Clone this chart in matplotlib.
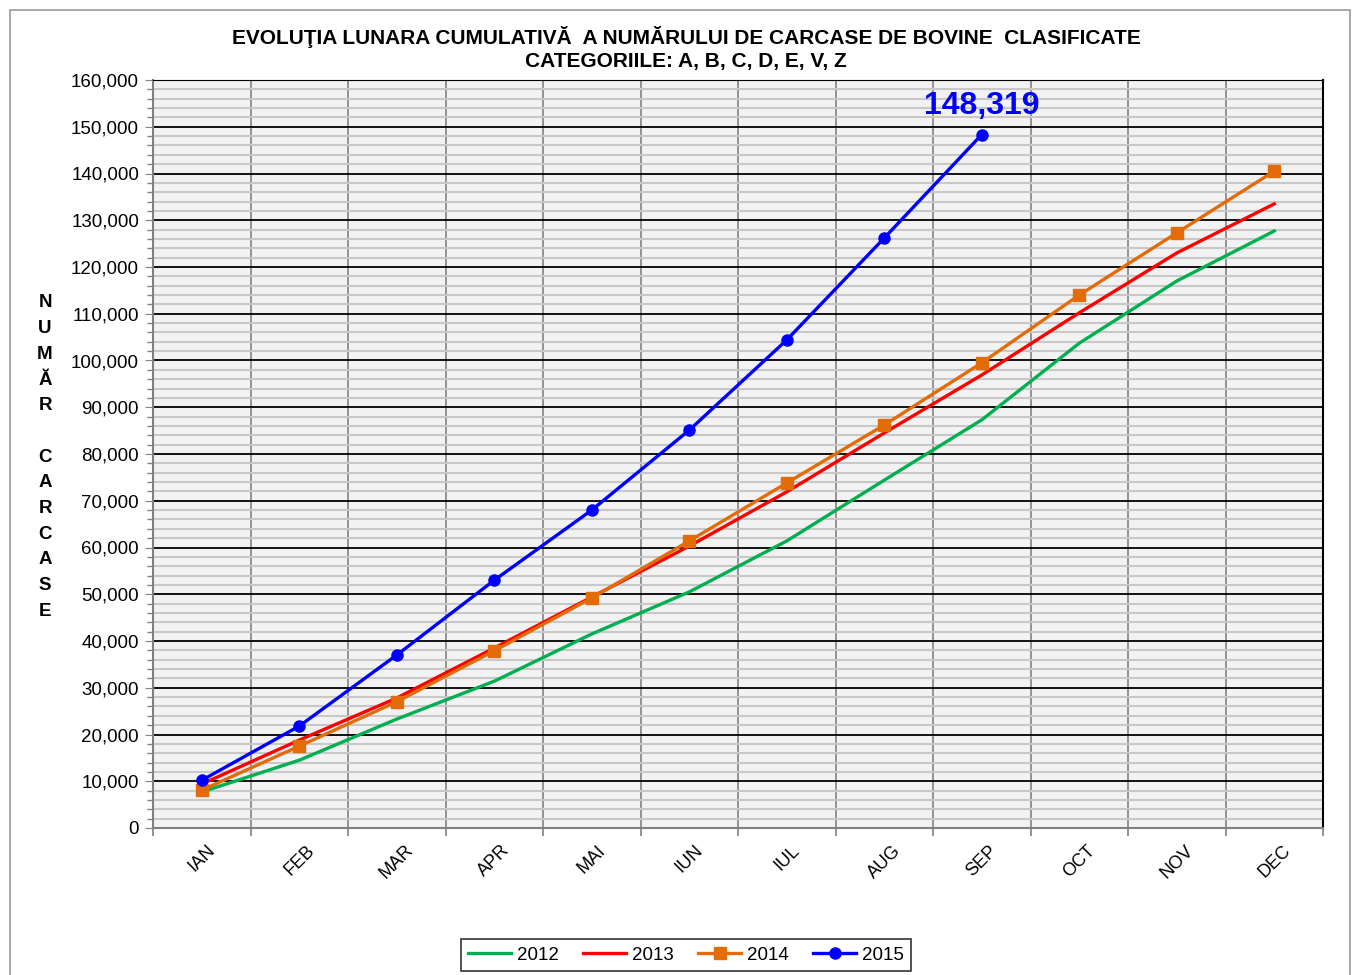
import matplotlib
matplotlib.use("Agg")
import matplotlib.pyplot as plt
from matplotlib.ticker import MultipleLocator, FuncFormatter, FixedLocator
from matplotlib.patches import Rectangle
from matplotlib.transforms import ScaledTranslation

months = ["IAN", "FEB", "MAR", "APR", "MAI", "IUN", "IUL", "AUG", "SEP", "OCT", "NOV", "DEC"]
y2012 = [7700, 14500, 23300, 31400, 41500, 50500, 61400, 74400, 87300, 103700, 117000, 127700]
y2013 = [9400, 18800, 27800, 38500, 49400, 60300, 71900, 84500, 96900, 110200, 123000, 133500]
y2014 = [8100, 17500, 27000, 37900, 49200, 61400, 73800, 86200, 99500, 114000, 127300, 140500]
y2015 = [10200, 21800, 37000, 53000, 68000, 85100, 104400, 126200, 148319]

plt.rcParams['font.family'] = ['Liberation Sans', 'DejaVu Sans']

fig = plt.figure(figsize=(13.54, 9.75), dpi=100)
fig.patches.append(Rectangle((10/1354, -0.01), 1340/1354, (975-10)/975 + 0.01,
                             transform=fig.transFigure, fill=False, edgecolor='#9a9a9a', lw=1.2))
ax = fig.add_axes([153/1354, 1-828/975, (1323-153)/1354, (828-80)/975])
ax.set_facecolor('#F2F2F2')

x = list(range(len(months)))
ax.plot(x, y2012, color='#00B050', lw=2.4, label='2012', zorder=3)
ax.plot(x, y2013, color='#FF0000', lw=2.4, label='2013', zorder=3)
ax.plot(x, y2014, color='#E36C09', lw=2.4, marker='s', ms=8, label='2014', zorder=4)
x15 = list(range(len(y2015)))
ax.plot(x15, y2015, color='#0000FF', lw=2.4, marker='o', ms=8, label='2015', zorder=5)
ax.annotate(f"{y2015[-1]:,}", (x15[-1], y2015[-1]), xytext=(0, 10), textcoords='offset points',
            ha='center', va='bottom', color='#0000FF', fontsize=23, fontweight='bold')

ax.set_xlim(-0.5, len(months) - 0.5)
ax.set_ylim(0, 160000)
ax.yaxis.set_major_locator(MultipleLocator(10000))
ax.yaxis.set_minor_locator(MultipleLocator(2000))
ax.yaxis.set_major_formatter(FuncFormatter(lambda v, p: f"{int(v):,}"))
ax.set_xticks(x)
ax.set_xticklabels(months, rotation=45, ha='center', va='top', fontsize=13)
shift = ScaledTranslation(-8/100, 0, fig.dpi_scale_trans)
for lbl in ax.get_xticklabels():
    lbl.set_transform(lbl.get_transform() + shift)
ax.xaxis.set_minor_locator(FixedLocator([i - 0.5 for i in range(len(months) + 1)]))
ax.tick_params(axis='x', which='major', length=0, pad=10)
ax.tick_params(axis='x', which='minor', length=6, color='#808080', width=1.2)
ax.tick_params(axis='y', which='major', length=6, color='#808080', labelsize=13.5, pad=4)
ax.tick_params(axis='y', which='minor', length=4, color='#808080', width=1)

ax.grid(which='minor', axis='y', color='#C8C8C8', lw=1.5, zorder=0)
ax.grid(which='major', axis='y', color='#000000', lw=1.3, zorder=1)
ax.grid(which='minor', axis='x', color='#8C8C8C', lw=1.3, zorder=1)
ax.set_axisbelow(True)
for s in ['left', 'bottom']:
    ax.spines[s].set_color('#808080')
    ax.spines[s].set_linewidth(1.5)
ax.spines['top'].set_color('#000000')
ax.spines['right'].set_color('#000000')
ax.spines['right'].set_linewidth(1.5)

fig.text(686/1354, 1-37/975, "EVOLUŢIA LUNARA CUMULATIVĂ  A NUMĂRULUI DE CARCASE DE BOVINE  CLASIFICATE",
         ha='center', va='center', fontsize=15, fontweight='bold')
fig.text(686/1354, 1-62/975, "CATEGORIILE: A, B, C, D, E, V, Z",
         ha='center', va='center', fontsize=15, fontweight='bold')

ylabel_letters = ["N", "U", "M", "Ă", "R", "", "C", "A", "R", "C", "A", "S", "E"]
y0 = 303
for i, ch in enumerate(ylabel_letters):
    if ch:
        fig.text(45/1354, 1-(y0 + i*25.7)/975, ch, ha='center', va='center', fontsize=13.5, fontweight='bold')

leg = fig.legend(loc='center', bbox_to_anchor=(686/1354, 1-955/975), ncol=4, fontsize=13.5,
                 frameon=True, fancybox=False, edgecolor='black', handlelength=2.3,
                 columnspacing=1.3, handletextpad=0.3, borderpad=0.4)
leg.get_frame().set_linewidth(1.2)

fig.savefig("out.png", dpi=100)
